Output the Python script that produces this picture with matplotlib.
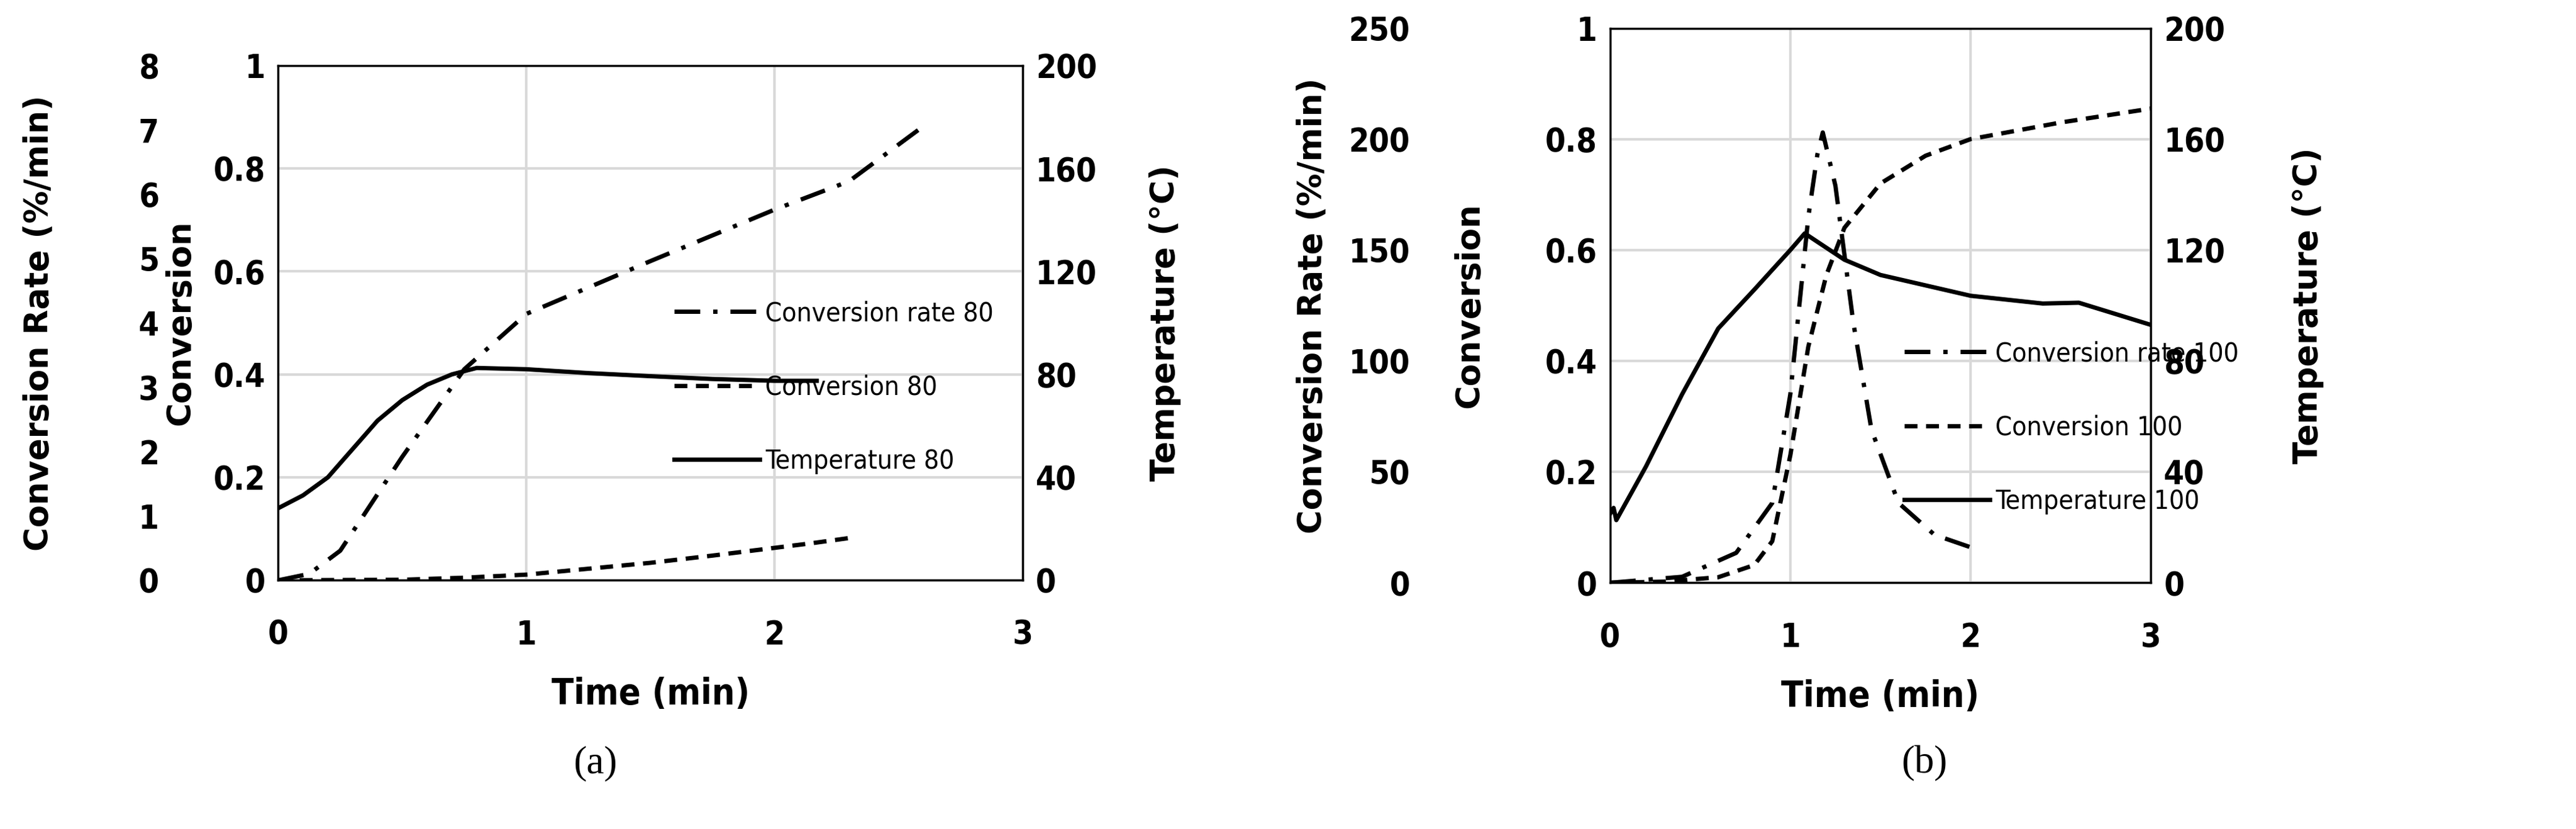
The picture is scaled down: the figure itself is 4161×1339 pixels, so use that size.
import matplotlib
matplotlib.use("Agg")
import matplotlib.pyplot as plt

# panel (a), 80
t_rate80 = [0, 0.125, 0.25, 0.5, 0.75, 1.0, 1.5, 2.0, 2.3, 2.58]
rate80 = [0, 0.1, 0.46, 1.92, 3.28, 4.14, 4.96, 5.76, 6.2, 7.0]
t_conv80 = [0, 0.5, 0.75, 1.0, 1.5, 1.75, 2.0, 2.15, 2.3]
conv80 = [0, 0.001, 0.005, 0.011, 0.034, 0.048, 0.063, 0.072, 0.082]
t_temp80 = [0, 0.1, 0.2, 0.3, 0.4, 0.5, 0.6, 0.7, 0.8, 1.0, 1.25, 1.5, 1.75, 2.0, 2.17]
temp80 = [28, 33, 40, 51, 62, 70, 76, 80, 82.5, 82, 80.5, 79.3, 78.2, 77.5, 77.5]

# panel (b), 100
t_rate100 = [0, 0.4, 0.7, 0.9, 1.0, 1.1, 1.15, 1.18, 1.25, 1.35, 1.45, 1.6, 1.8, 2.0]
rate100 = [0, 2.7, 13.5, 36, 85, 165, 193, 203, 179, 117, 69, 36, 21.6, 16]
t_conv100 = [0, 0.3, 0.6, 0.8, 0.9, 1.0, 1.1, 1.2, 1.3, 1.5, 1.75, 2.0, 2.5, 3.0]
conv100 = [0, 0.002, 0.01, 0.032, 0.075, 0.23, 0.426, 0.555, 0.64, 0.72, 0.77, 0.8, 0.83, 0.855]
t_temp100 = [0, 0.02, 0.035, 0.2, 0.4, 0.6, 0.8, 1.0, 1.08, 1.3, 1.5, 2.0, 2.4, 2.6, 2.8, 3.0]
temp100 = [24.8, 27, 22.6, 42, 68, 91.7, 105.7, 120, 126, 116.5, 111, 103.5, 100.7, 101, 97, 93]

TICK = dict(family="DejaVu Sans", stretch="condensed", weight="bold", size=38)
LAB = dict(family="DejaVu Sans", weight="bold", size=38)
LEG = dict(family="DejaVu Sans", stretch="condensed", size=31)
LW = 5

fig = plt.figure(figsize=(41.61, 13.39), dpi=100)


def panel(rect, t_rate, rate, rmax, rticks, t_conv, conv, t_temp, temp, tag,
          rate_pos, rate_lab_x, conv_lab_x, temp_lab_x, leg_xy):
    ax = fig.add_axes(rect)
    ax.set_xlim(0, 3)
    ax.set_ylim(0, 1)
    ax.set_xticks([0, 1, 2, 3])
    ax.set_yticks([0, 0.2, 0.4, 0.6, 0.8, 1])
    ax.set_yticklabels(["0", "0.2", "0.4", "0.6", "0.8", "1"])
    ax.grid(True, color="#d9d9d9", lw=3)
    ax.set_axisbelow(True)
    for s in ax.spines.values():
        s.set_linewidth(2.5)
    ax.tick_params(length=0, pad=15)
    ax.tick_params(axis="x", pad=45)
    for lb in ax.get_xticklabels() + ax.get_yticklabels():
        lb.set(**TICK)
    l_conv, = ax.plot(t_conv, conv, color="black", lw=LW, ls=(0, (3, 2)))
    ax.set_xlabel("Time (min)", family="DejaVu Sans", stretch="condensed", weight="bold",
                  size=42, labelpad=30)
    ax.set_ylabel("Conversion", **LAB)
    ax.yaxis.set_label_coords(conv_lab_x, 0.5)

    axr = ax.twinx()
    axr.set_ylim(0, 200)
    axr.set_yticks([0, 40, 80, 120, 160, 200])
    axr.tick_params(length=0, pad=15)
    for lb in axr.get_yticklabels():
        lb.set(**TICK)
    l_temp, = axr.plot(t_temp, temp, color="black", lw=LW)
    axr.set_ylabel("Temperature (°C)", **LAB)
    axr.yaxis.set_label_coords(temp_lab_x, 0.5)

    axl = ax.twinx()
    axl.yaxis.set_ticks_position("left")
    axl.yaxis.set_label_position("left")
    axl.spines["left"].set_position(("axes", rate_pos))
    axl.spines["left"].set_visible(False)
    axl.spines["right"].set_visible(False)
    axl.set_ylim(0, rmax)
    axl.set_yticks(rticks)
    axl.tick_params(length=0, pad=0)
    for lb in axl.get_yticklabels():
        lb.set(**TICK)
    l_rate, = axl.plot(t_rate, rate, color="black", lw=LW, ls=(0, (6, 3, 1, 3)))
    axl.set_ylabel("Conversion Rate (%/min)", **LAB)
    axl.yaxis.set_label_coords(rate_lab_x, 0.5)

    axl.legend([l_rate, l_conv, l_temp],
               ["Conversion rate " + tag, "Conversion " + tag, "Temperature " + tag],
               loc="upper left", bbox_to_anchor=leg_xy, frameon=False,
               labelspacing=1.8, handlelength=3.2, handletextpad=0.2, prop=LEG)
    return ax


panel([0.108, 0.30, 0.289, 0.621], t_rate80, rate80, 8, list(range(9)),
      t_conv80, conv80, t_temp80, temp80, "80",
      -0.16, -0.30, -0.11, 1.17, (0.5, 0.59))
panel([0.625, 0.297, 0.21, 0.669], t_rate100, rate100, 250, [0, 50, 100, 150, 200, 250],
      t_conv100, conv100, t_temp100, temp100, "100",
      -0.37, -0.52, -0.23, 1.26, (0.5, 0.48))

fig.text(0.231, 0.079, "(a)", family="Liberation Serif", size=46, ha="center", va="center")
fig.text(0.747, 0.079, "(b)", family="Liberation Serif", size=46, ha="center", va="center")

fig.savefig("out.png", dpi=100)
